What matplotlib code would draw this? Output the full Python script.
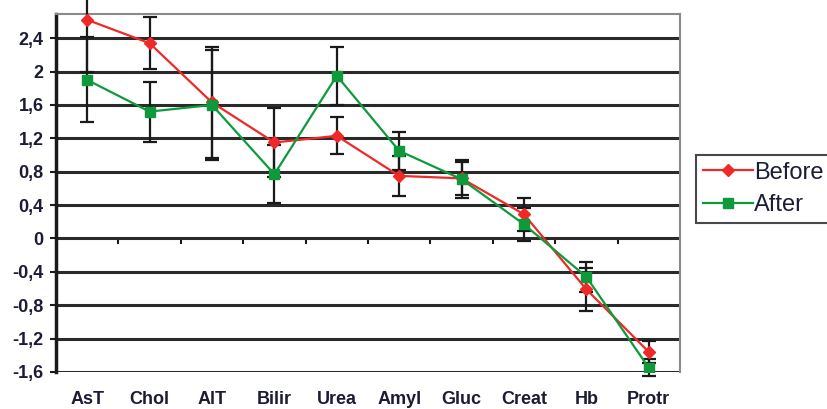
import matplotlib
matplotlib.use("Agg")
import matplotlib.pyplot as plt
import numpy as np

categories = ["AsT", "Chol", "AlT", "Bilir", "Urea", "Amyl", "Gluc", "Creat", "Hb", "Protr"]
before = [2.62, 2.34, 1.63, 1.15, 1.23, 0.75, 0.72, 0.29, -0.61, -1.36]
before_err = [0.62, 0.31, 0.67, 0.41, 0.22, 0.24, 0.20, 0.20, 0.26, 0.13]
after = [1.90, 1.52, 1.60, 0.77, 1.95, 1.05, 0.71, 0.17, -0.46, -1.55]
after_err = [0.51, 0.36, 0.66, 0.35, 0.35, 0.23, 0.23, 0.20, 0.18, 0.10]
y_ticks = [-1.6, -1.2, -0.8, -0.4, 0, 0.4, 0.8, 1.2, 1.6, 2.0, 2.4]
y_labels = ["-1,6", "-1,2", "-0,8", "-0,4", "0", "0,4", "0,8", "1,2", "1,6", "2", "2,4"]

plt.rcParams["font.family"] = ["Liberation Sans", "DejaVu Sans"]
text_color = "#1c1c34"

fig = plt.figure(figsize=(8.27, 4.09), dpi=100)
ax = fig.add_axes([0.0677, 0.0905, 0.7545, 0.8753])

x = np.arange(len(categories))
ax.set_xlim(-0.5, len(categories) - 0.5)
ax.set_ylim(-1.6, 2.69)

# horizontal gridlines
for t in y_ticks:
    ax.axhline(t, color="#2a2a2a", lw=2.2, zorder=1)

red = "#f02828"
green = "#0e9a3c"

ax.errorbar(x, before, yerr=before_err, fmt="none", ecolor="#1a1a1a",
            elinewidth=1.6, capsize=5, capthick=1.6, zorder=3, clip_on=False)
ax.errorbar(x, after, yerr=after_err, fmt="none", ecolor="#1a1a1a",
            elinewidth=1.6, capsize=5, capthick=1.6, zorder=3, clip_on=False)
ax.plot(x, before, color=red, lw=1.6, marker="D", ms=6, mfc=red, mec=red,
        label="Before", zorder=4)
ax.plot(x, after, color=green, lw=1.6, marker="s", ms=7, mfc=green, mec=green,
        label="After", zorder=5)

# spines
for side in ["top", "right"]:
    ax.spines[side].set_color("#8a8a8a")
    ax.spines[side].set_linewidth(1.5)
ax.spines["bottom"].set_visible(False)
ax.spines["left"].set_color("#1a1a1a")
ax.spines["left"].set_linewidth(2.5)

ax.set_yticks(y_ticks)
ax.set_yticklabels(y_labels)
ax.tick_params(axis="y", length=4, width=1.5, color="#1a1a1a", pad=5,
               labelsize=13, labelcolor=text_color)
for lab in ax.get_yticklabels():
    lab.set_fontweight("bold")

ax.set_xticks(x)
ax.set_xticklabels(categories)
ax.tick_params(axis="x", length=0, pad=14, labelsize=13, labelcolor=text_color)
for lab in ax.get_xticklabels():
    lab.set_fontweight("bold")

# category axis crossing at zero with boundary ticks
sec = ax.secondary_xaxis(0, transform=ax.transData)
sec.spines["bottom"].set_visible(False)
sec.set_xticks(np.arange(0.5, len(categories) - 0.5, 1.0))
sec.set_xticklabels([])
sec.tick_params(axis="x", length=4, width=1.5, color="#1a1a1a", direction="out")

leg = fig.legend(loc="upper left", bbox_to_anchor=(0.842, 0.622), fontsize=17,
                 frameon=True, fancybox=False, handlelength=2.1, handletextpad=0.05,
                 borderpad=0.3, labelspacing=0.45, borderaxespad=0)
leg.get_frame().set_edgecolor("#1a1a1a")
leg.get_frame().set_linewidth(1.5)
for t in leg.get_texts():
    t.set_color(text_color)

fig.savefig("out.png", dpi=100)
